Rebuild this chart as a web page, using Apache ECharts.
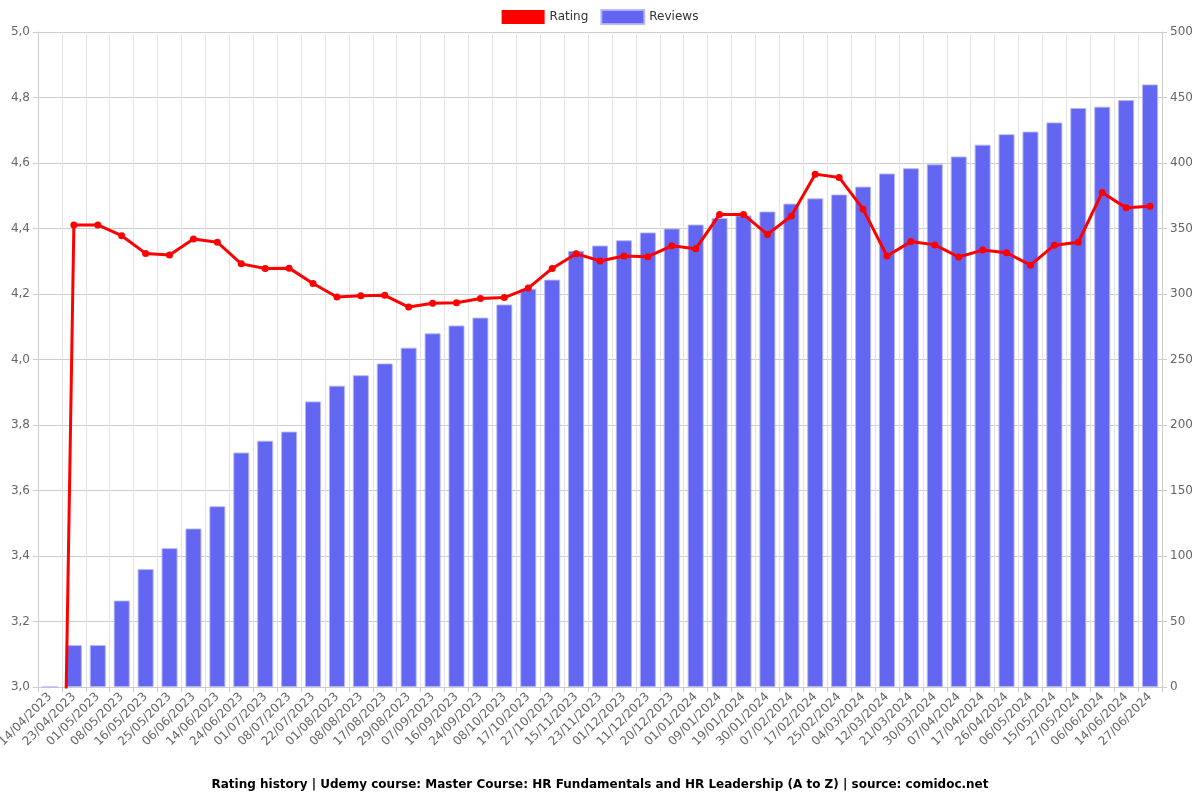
<!DOCTYPE html>
<html>
<head>
<meta charset="utf-8">
<script src="https://cdn.jsdelivr.net/npm/echarts@6/dist/echarts.min.js"></script>
<style>html,body{margin:0;padding:0;background:#fff}#c{width:1200px;height:800px}</style>
</head>
<body>
<div id="c"></div>
<script>
const categories = ["14/04/2023","23/04/2023","01/05/2023","08/05/2023","16/05/2023","25/05/2023","06/06/2023","14/06/2023","24/06/2023","01/07/2023","08/07/2023","22/07/2023","01/08/2023","08/08/2023","17/08/2023","29/08/2023","07/09/2023","16/09/2023","24/09/2023","08/10/2023","17/10/2023","27/10/2023","15/11/2023","23/11/2023","01/12/2023","11/12/2023","20/12/2023","01/01/2024","09/01/2024","19/01/2024","30/01/2024","07/02/2024","17/02/2024","25/02/2024","04/03/2024","12/03/2024","21/03/2024","30/03/2024","07/04/2024","17/04/2024","26/04/2024","06/05/2024","15/05/2024","27/05/2024","06/06/2024","14/06/2024","27/06/2024"];
const ratings = [0,4.411,4.411,4.378,4.324,4.319,4.368,4.358,4.292,4.278,4.279,4.232,4.191,4.195,4.196,4.160,4.172,4.173,4.186,4.189,4.218,4.278,4.323,4.301,4.316,4.314,4.347,4.338,4.443,4.443,4.382,4.438,4.566,4.556,4.459,4.316,4.360,4.350,4.313,4.334,4.326,4.288,4.349,4.358,4.510,4.463,4.468];
const reviews = [0,32,32,66,90,106,121,138,179,188,195,218,230,238,247,259,270,276,282,292,304,311,333,337,341,347,350,353,358,360,363,369,373,376,382,392,396,399,405,414,422,424,431,442,443,448,460];
const titleText = "Rating history | Udemy course: Master Course: HR Fundamentals and HR Leadership (A to Z) | source: comidoc.net";

const chart = echarts.init(document.getElementById('c'));
const font = "DejaVu Sans";
chart.setOption({
  animation: false,
  textStyle: {fontFamily: font},
  title: {
    text: titleText, left: 'center', bottom: 4,
    textStyle: {fontFamily: font, fontSize: 12, fontWeight: 'bold', color: '#000'}
  },
  legend: {
    top: 4, left: 'center', itemWidth: 43, itemHeight: 14, itemGap: 12,
    textStyle: {fontFamily: font, fontSize: 12, color: '#333'},
    data: [{name: 'Rating', icon: 'rect'}, {name: 'Reviews', icon: 'rect'}]
  },
  grid: {left: 38, right: 38, top: 32, bottom: 113, containLabel: false, outerBoundsMode: 'none'},
  xAxis: {
    type: 'category', data: categories, boundaryGap: true,
    axisLine: {lineStyle: {color: '#ccc'}},
    axisTick: {show: true, alignWithLabel: false, length: 5, lineStyle: {color: '#ccc'}},
    axisLabel: {rotate: 45, interval: 0, color: '#666', fontSize: 12, fontFamily: font, margin: 8},
    splitLine: {show: true, lineStyle: {color: '#e3e3e3'}}
  },
  yAxis: [
    {
      type: 'value', min: 3, max: 5, interval: 0.2,
      axisLine: {show: true, lineStyle: {color: '#ccc'}},
      axisTick: {show: true, length: 5, lineStyle: {color: '#ccc'}},
      axisLabel: {color: '#666', fontSize: 12, fontFamily: font, formatter: v => v.toFixed(1).replace('.', ',')},
      splitLine: {show: true, lineStyle: {color: '#ccc'}}
    },
    {
      type: 'value', min: 0, max: 500, interval: 50,
      axisLine: {show: true, lineStyle: {color: '#ccc'}},
      axisTick: {show: true, length: 5, lineStyle: {color: '#ccc'}},
      axisLabel: {color: '#666', fontSize: 12, fontFamily: font},
      splitLine: {show: false}
    }
  ],
  series: [
    {
      name: 'Rating', type: 'line', yAxisIndex: 0, data: ratings, z: 5,
      itemStyle: {color: '#ff0000'},
      lineStyle: {color: '#ff0000', width: 3},
      symbol: 'circle', symbolSize: 7, showSymbol: true, clip: true
    },
    {
      name: 'Reviews', type: 'bar', yAxisIndex: 1, data: reviews, barWidth: '67%',
      itemStyle: {color: '#6366f1', borderColor: 'rgba(180,182,250,0.9)', borderWidth: 1}
    }
  ]
});
</script>
</body>
</html>
